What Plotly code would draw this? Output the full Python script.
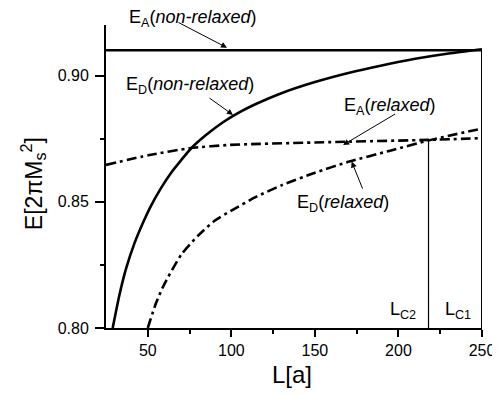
import plotly.graph_objects as go

# ---- data ----
L_ea_nr = [25, 250]
E_ea_nr = [0.910, 0.910]

L_ed_nr = [29, 33, 37, 42, 47, 52, 58, 64, 70, 76, 85, 95, 105, 115, 130, 150, 170, 190, 210, 230, 250]
E_ed_nr = [0.800, 0.813, 0.8235, 0.8335, 0.8415, 0.8485, 0.8555, 0.8615, 0.8665, 0.8712, 0.8765,
           0.8815, 0.8855, 0.8888, 0.893, 0.8974, 0.901, 0.904, 0.9066, 0.9087, 0.9104]

L_ea_r = [25, 51, 75, 99, 171, 218, 250]
E_ea_r = [0.8646, 0.8685, 0.8712, 0.8725, 0.8738, 0.8745, 0.8752]

L_ed_r = [50, 55, 60, 70, 80, 90, 100, 115, 130, 150, 170, 195, 218, 250]
E_ed_r = [0.800, 0.810, 0.8175, 0.829, 0.8365, 0.8425, 0.8465, 0.852, 0.8565, 0.8615, 0.8658, 0.8702, 0.8743, 0.879]

L_c2 = [218, 218]
E_c2 = [0.800, 0.8745]

x_ticks = [50, 100, 150, 200, 250]
x_minor = [75, 125, 175, 225]
y_ticks = [0.80, 0.85, 0.90]
y_tick_text = ["0.80", "0.85", "0.90"]
y_minor = [0.825, 0.875]

FONT = "Liberation Sans, Arial, sans-serif"
DASHDOT = "10px,4px,3px,4px"

fig = go.Figure()
fig.add_trace(go.Scatter(x=L_ea_nr, y=E_ea_nr, mode="lines",
                         line=dict(color="black", width=2.6), showlegend=False))
fig.add_trace(go.Scatter(x=L_ed_nr, y=E_ed_nr, mode="lines",
                         line=dict(color="black", width=2.6, shape="spline", smoothing=0.6),
                         showlegend=False))
fig.add_trace(go.Scatter(x=L_ea_r, y=E_ea_r, mode="lines",
                         line=dict(color="black", width=2.6, dash=DASHDOT, shape="spline", smoothing=0.6),
                         showlegend=False))
fig.add_trace(go.Scatter(x=L_ed_r, y=E_ed_r, mode="lines",
                         line=dict(color="black", width=2.6, dash=DASHDOT, shape="spline", smoothing=0.6),
                         showlegend=False))
fig.add_trace(go.Scatter(x=L_c2, y=E_c2, mode="lines",
                         line=dict(color="black", width=1.2), showlegend=False))

# right frame edge
fig.add_shape(type="line", x0=250, x1=250, y0=0.80, y1=0.910, xref="x", yref="y",
              line=dict(color="black", width=2))

ann_font = dict(family=FONT, size=18, color="black")
fig.add_annotation(text="E<sub>A</sub>(<i>non-relaxed</i>)", x=77, y=0.978, xref="x", yref="paper",
                   showarrow=False, font=ann_font, xanchor="center", yanchor="bottom")
texts = [
    ("E<sub>D</sub>(<i>non-relaxed</i>)", 75.2, 0.896),
    ("E<sub>A</sub>(<i>relaxed</i>)", 194.6, 0.8876),
    ("E<sub>D</sub>(<i>relaxed</i>)", 166.7, 0.8495),
    ("L<sub>C2</sub>", 202.6, 0.807),
    ("L<sub>C1</sub>", 235.5, 0.807),
]
for t, x, y in texts:
    fig.add_annotation(text=t, x=x, y=y, xref="x", yref="y", showarrow=False,
                       font=ann_font, xanchor="center", yanchor="middle")

arrows = [
    (67.5, 0.9213, 97.4, 0.911),
    (86, 0.8915, 101, 0.8844),
    (198.9, 0.8851, 166.9, 0.8725),
    (178.9, 0.8546, 172, 0.8659),
]
for ax, ay, x, y in arrows:
    fig.add_annotation(text="", x=x, y=y, ax=ax, ay=ay, xref="x", yref="y",
                       axref="x", ayref="y", showarrow=True, arrowhead=2,
                       arrowsize=1.2, arrowwidth=1, arrowcolor="black")

# axis titles
fig.add_annotation(text="L[a]", x=0.495, y=-0.155, xref="paper", yref="paper", showarrow=False,
                   font=dict(family=FONT, size=24, color="black"), xanchor="center", yanchor="middle")
fig.add_annotation(text="E[2πM<sub>s</sub><sup>2</sup>]", x=-0.194, y=0.475, xref="paper", yref="paper",
                   showarrow=False, textangle=-90,
                   font=dict(family=FONT, size=23, color="black"), xanchor="center", yanchor="middle")

fig.update_layout(
    width=492, height=388,
    margin=dict(l=98, r=18, t=17, b=68, autoexpand=False),
    plot_bgcolor="white", paper_bgcolor="white",
    font=dict(family=FONT, color="black"),
    xaxis=dict(range=[25, 250], showgrid=False, zeroline=False, automargin=False,
               showline=True, linecolor="black", linewidth=2,
               ticks="outside", ticklen=7, tickwidth=1.5, tickcolor="black",
               tickvals=x_ticks, tickfont=dict(size=16, family=FONT),
               minor=dict(tickvals=x_minor, ticks="outside", ticklen=4, tickwidth=1.5, tickcolor="black")),
    yaxis=dict(range=[0.80, 0.92], showgrid=False, zeroline=False, automargin=False,
               showline=True, linecolor="black", linewidth=2,
               ticks="outside", ticklen=9, tickwidth=1.5, tickcolor="black",
               ticklabelstandoff=3,
               tickvals=y_ticks, ticktext=y_tick_text, tickfont=dict(size=16, family=FONT),
               minor=dict(tickvals=y_minor, ticks="outside", ticklen=4, tickwidth=1.5, tickcolor="black")),
)

fig.write_html("out.html")
